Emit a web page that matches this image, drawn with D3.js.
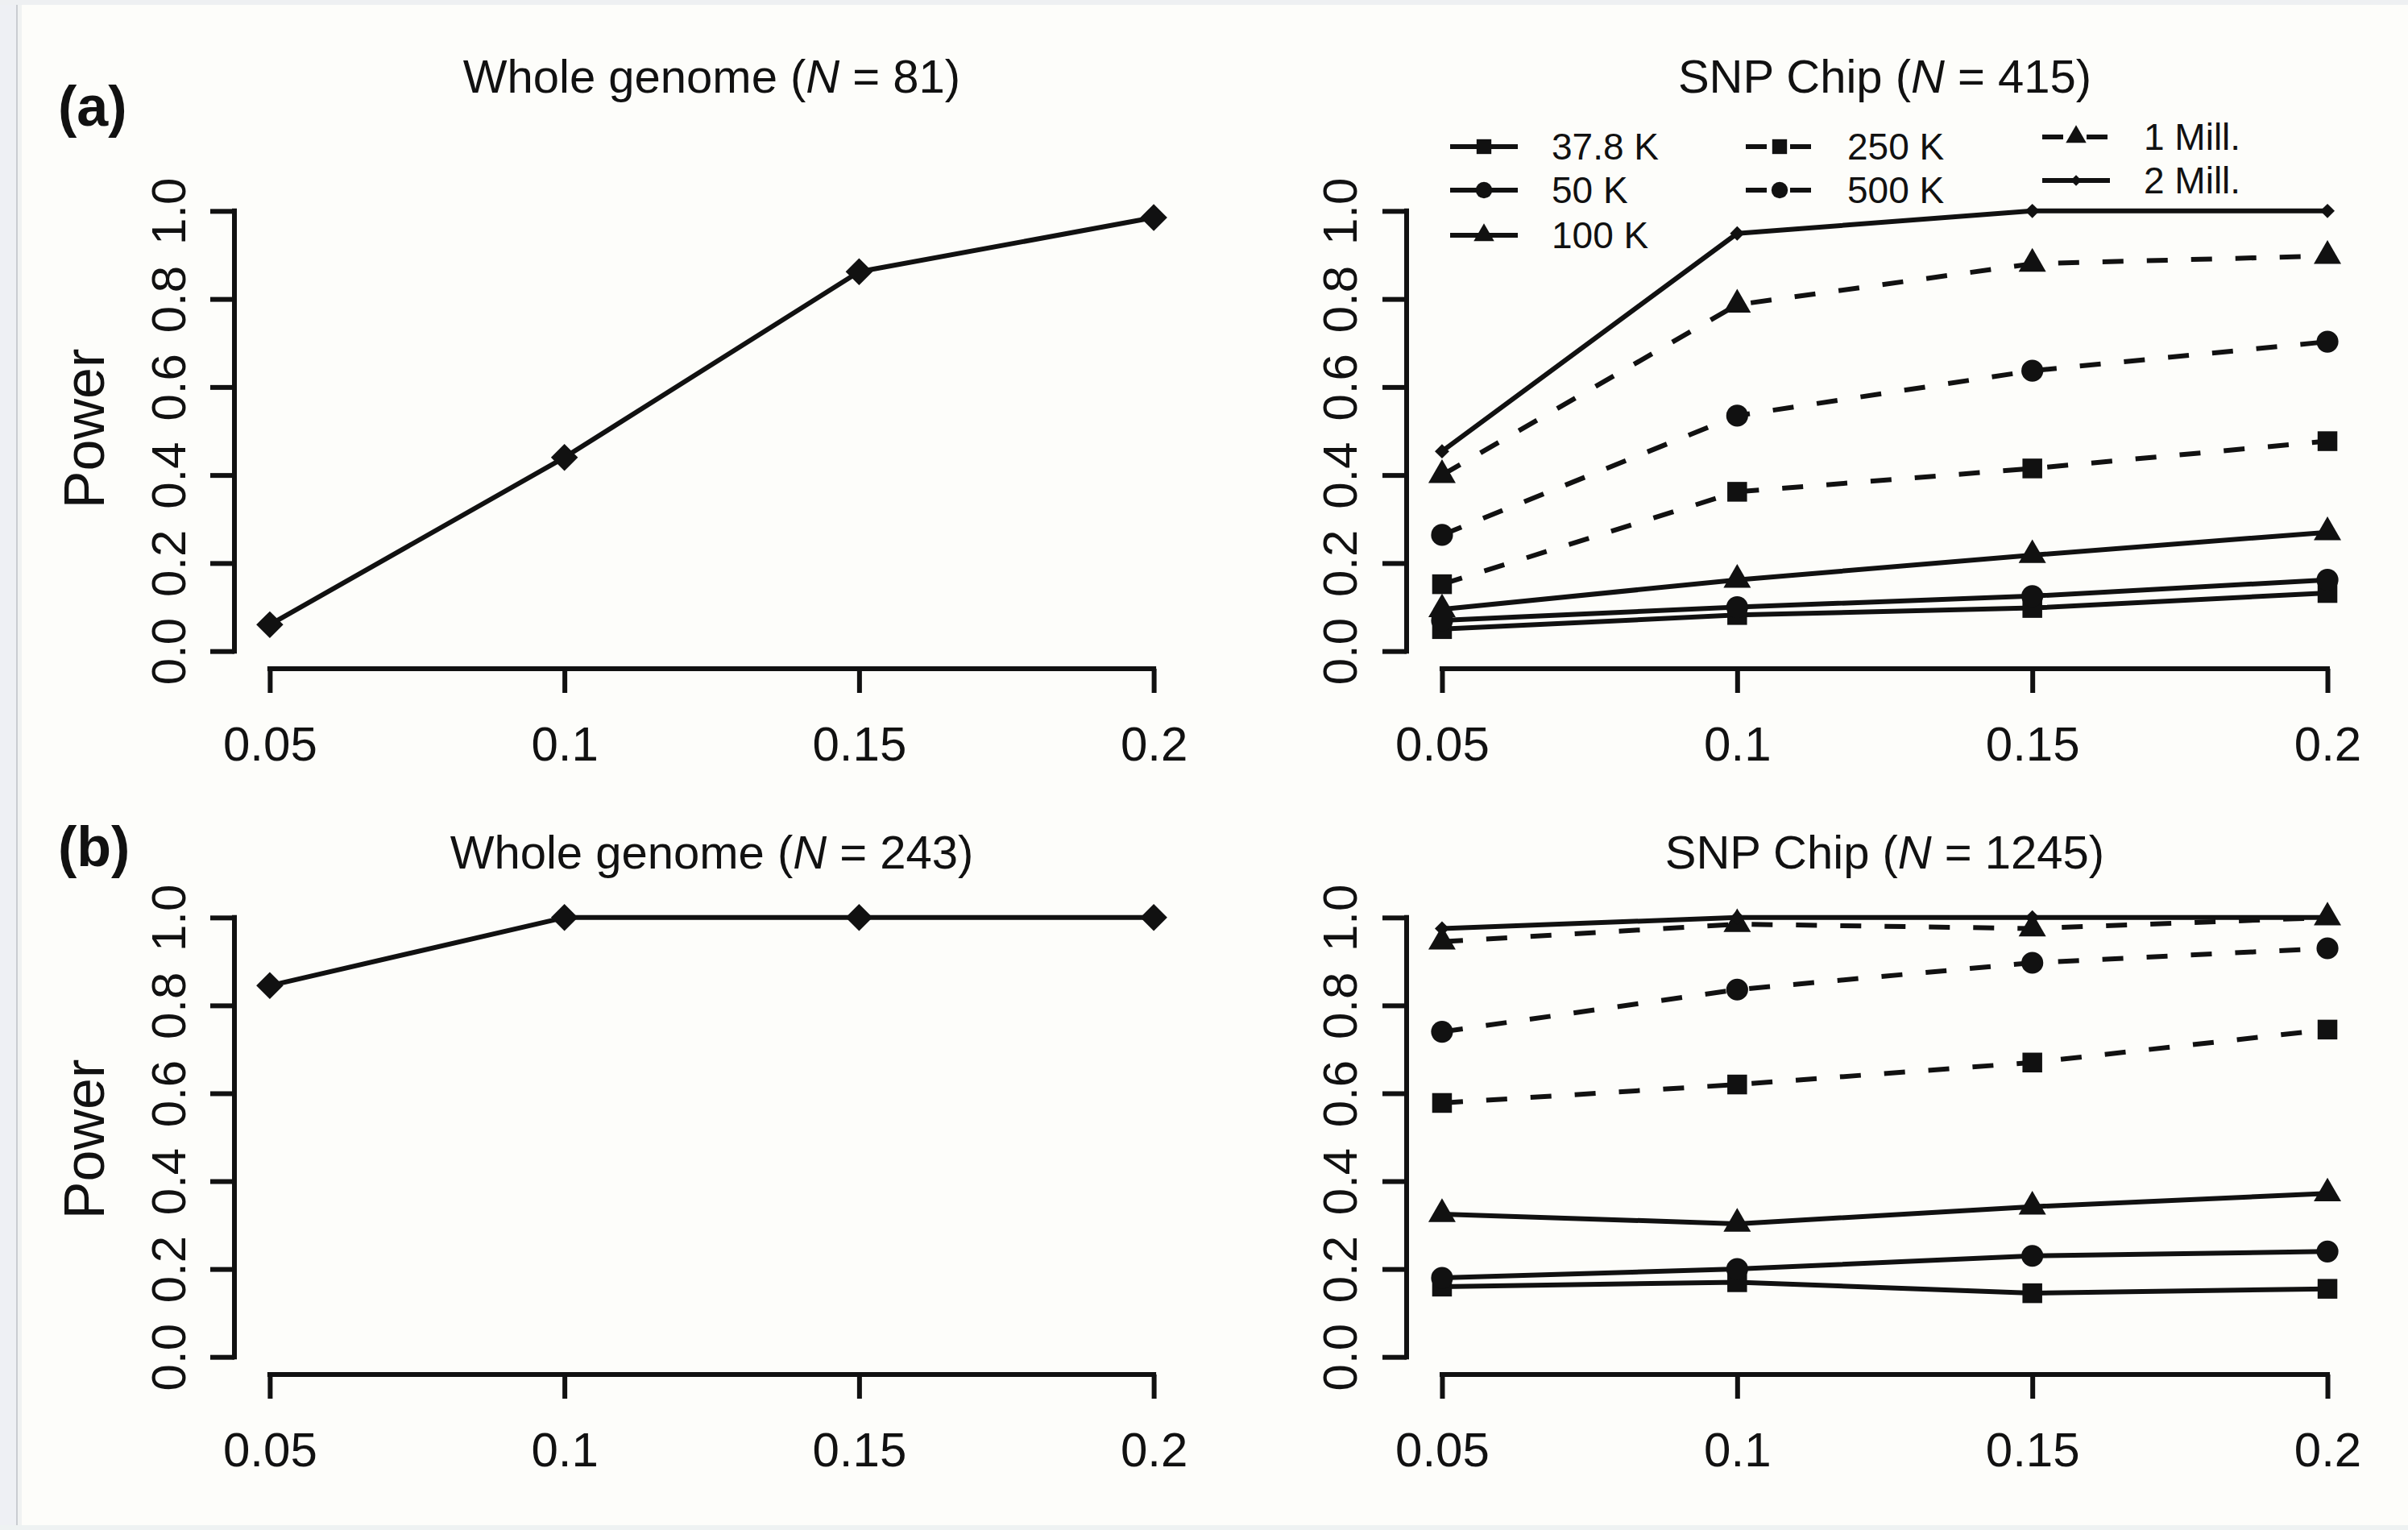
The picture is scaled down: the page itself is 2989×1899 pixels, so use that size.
<!DOCTYPE html>
<html>
<head>
<meta charset="utf-8">
<script src="https://cdn.jsdelivr.net/npm/d3@7"></script>
<style>
	body { margin: 0; background: #fdfdfa; }
	svg { display: block; }
</style>
</head>
<body>
<svg id="chart"></svg>
<script>

//****************************************************************************************************************************//
// Data

var mafTicks = [0.05, 0.1, 0.15, 0.2];
var mafLabels = ["0.05", "0.1", "0.15", "0.2"];
var powerTicks = [0, 0.2, 0.4, 0.6, 0.8, 1.0];

var wholeGenomeA = [0.06, 0.44, 0.862, 0.985];
var wholeGenomeB = [0.845, 1, 1, 1];

var chipNames = ["37.8 K", "50 K", "100 K", "250 K", "500 K", "1 Mill.", "2 Mill."];

var chipA = [
	[0.05, 0.082, 0.098, 0.132],
	[0.07, 0.10, 0.125, 0.162],
	[0.095, 0.162, 0.218, 0.27],
	[0.152, 0.362, 0.415, 0.477],
	[0.264, 0.535, 0.637, 0.703],
	[0.40, 0.787, 0.88, 0.898],
	[0.454, 0.949, 1.0, 1.0]
];

var chipB = [
	[0.16, 0.17, 0.145, 0.155],
	[0.18, 0.20, 0.23, 0.24],
	[0.325, 0.303, 0.342, 0.372],
	[0.578, 0.62, 0.67, 0.745],
	[0.74, 0.836, 0.897, 0.93],
	[0.945, 0.985, 0.975, 1.0],
	[0.975, 1.0, 1.0, 1.0]
];

var sampleSizes = { wholeA : 81, chipA : 415, wholeB : 243, chipB : 1245 };

//****************************************************************************************************************************//
// Styles

var width = 2989, height = 1899;
var fontFamily = "'Liberation Sans', Arial, Helvetica, sans-serif";
var ink = "#111111";
var lineWidth = 6;

var markerShape = ["square", "circle", "triangle", "square", "circle", "triangle", "smallDiamond"];
var markerDashed = [false, false, false, true, true, true, false];
var dashPattern = "26,29";

var cols = [ { left : 291, right : 1476 }, { left : 1746, right : 2933 } ];
var rows = [ { top : 240, bottom : 830, titleY : 115 }, { top : 1117, bottom : 1706, titleY : 1078 } ];

var canvas = d3.select("#chart")
				.attr("width", width)
				.attr("height", height)
				.style("font-family", fontFamily);

// page frame
canvas.append("rect").attr("x", 0).attr("y", 0).attr("width", width).attr("height", height).attr("fill", "#fdfdfa");
canvas.append("rect").attr("x", 0).attr("y", 0).attr("width", 20).attr("height", height).attr("fill", "#eef0f4");
canvas.append("rect").attr("x", 20).attr("y", 0).attr("width", 2).attr("height", height).attr("fill", "#c9cdd1");
canvas.append("rect").attr("x", 22).attr("y", 0).attr("width", 5).attr("height", height).attr("fill", "#f0f2f2");
canvas.append("rect").attr("x", 0).attr("y", 1893).attr("width", width).attr("height", height - 1893).attr("fill", "#eef2f2");
canvas.append("rect").attr("x", 0).attr("y", 0).attr("width", width).attr("height", 6).attr("fill", "#eef0f2");

//****************************************************************************************************************************//
// Marker helper

function markerPath(shape, scale){
	scale = scale || 1;
	if (shape == "square") return d3.symbol().type(d3.symbolSquare).size(600*scale*scale)();
	if (shape == "circle") return d3.symbol().type(d3.symbolCircle).size(580*scale*scale)();
	if (shape == "triangle") return d3.symbol().type(d3.symbolTriangle).size(500*scale*scale)();
	if (shape == "diamond") return d3.symbol().type(d3.symbolSquare).size(560*scale*scale)();
	if (shape == "smallDiamond") return d3.symbol().type(d3.symbolSquare).size(160*scale*scale)();
}

function markerRotation(shape){
	return (shape == "diamond" || shape == "smallDiamond") ? 45 : 0;
}

//****************************************************************************************************************************//
// Panel

function createPanel(col, row, titleText, nValue, series, shapes, dashed, yLabelOffset){

	var x = d3.scaleLinear().domain([0.044, 0.206]).range([col.left, col.right]);
	var y = d3.scaleLinear().domain([-0.04, 1.04]).range([row.bottom, row.top]);

	var panel = canvas.append("g");

	// y axis
	var gy = panel.append("g")
				.attr("transform", "translate(" + col.left + ",0)")
				.call(d3.axisLeft(y).tickValues(powerTicks).tickSize(30).tickFormat(d3.format(".1f")))
				.attr("font-size", 60)
				.attr("font-family", fontFamily);
	gy.select(".domain").remove();
	gy.selectAll(".tick line").attr("stroke", ink).attr("stroke-width", lineWidth);
	gy.selectAll(".tick text")
				.attr("x", 0)
				.attr("dy", null)
				.attr("text-anchor", "middle")
				.attr("fill", ink)
				.attr("transform", "translate(" + yLabelOffset + ",0) rotate(-90)");
	panel.append("line")
				.attr("x1", col.left).attr("x2", col.left)
				.attr("y1", y(0) + lineWidth / 2).attr("y2", y(1) - lineWidth / 2)
				.attr("stroke", ink).attr("stroke-width", lineWidth);

	// x axis
	var gx = panel.append("g")
				.attr("transform", "translate(0," + row.bottom + ")")
				.call(d3.axisBottom(x).tickValues(mafTicks).tickSize(30).tickFormat(function(d, i){ return mafLabels[i]; }))
				.attr("font-size", 60)
				.attr("font-family", fontFamily);
	gx.select(".domain").remove();
	gx.selectAll(".tick line").attr("stroke", ink).attr("stroke-width", lineWidth);
	gx.selectAll(".tick text").attr("y", 114).attr("dy", null).attr("fill", ink);
	panel.append("line")
				.attr("x1", x(mafTicks[0]) - lineWidth / 2).attr("x2", x(mafTicks[mafTicks.length - 1]) + lineWidth / 2)
				.attr("y1", row.bottom).attr("y2", row.bottom)
				.attr("stroke", ink).attr("stroke-width", lineWidth);

	// title
	var title = panel.append("text")
				.attr("x", (col.left + col.right) / 2)
				.attr("y", row.titleY)
				.attr("text-anchor", "middle")
				.attr("font-size", 58)
				.attr("fill", ink);
	title.append("tspan").text(titleText + " (");
	title.append("tspan").attr("font-style", "italic").text("N");
	title.append("tspan").text(" = " + nValue + ")");

	// series
	var line = d3.line()
				.x(function(d, i){ return x(mafTicks[i]); })
				.y(function(d){ return y(d); });

	series.forEach(function(values, s){
		panel.append("path")
				.attr("d", line(values))
				.attr("fill", "none")
				.attr("stroke", ink)
				.attr("stroke-width", lineWidth)
				.attr("stroke-linejoin", "round")
				.attr("stroke-dasharray", dashed[s] ? dashPattern : null);
	});

	series.forEach(function(values, s){
		panel.selectAll(null)
				.data(values)
				.enter()
				.append("path")
				.attr("d", markerPath(shapes[s]))
				.attr("transform", function(d, i){
					return "translate(" + x(mafTicks[i]) + "," + y(d) + ") rotate(" + markerRotation(shapes[s]) + ")";
				})
				.attr("fill", ink);
	});

	return panel;
}

//****************************************************************************************************************************//
// Panels

createPanel(cols[0], rows[0], "Whole genome", sampleSizes.wholeA, [wholeGenomeA], ["diamond"], [false], -61);
createPanel(cols[1], rows[0], "SNP Chip", sampleSizes.chipA, chipA, markerShape, markerDashed, -62);
createPanel(cols[0], rows[1], "Whole genome", sampleSizes.wholeB, [wholeGenomeB], ["diamond"], [false], -61);
createPanel(cols[1], rows[1], "SNP Chip", sampleSizes.chipB, chipB, markerShape, markerDashed, -62);

//****************************************************************************************************************************//
// Panel letters and axis titles

canvas.append("text").attr("x", 72).attr("y", 156).attr("font-size", 70).attr("font-weight", "bold").attr("fill", ink).text("(a)");
canvas.append("text").attr("x", 72).attr("y", 1075).attr("font-size", 70).attr("font-weight", "bold").attr("fill", ink).text("(b)");

[532, 1414].forEach(function(cy){
	canvas.append("text")
			.attr("transform", "translate(129," + cy + ") rotate(-90)")
			.attr("text-anchor", "middle")
			.attr("font-size", 70)
			.attr("fill", ink)
			.text("Power");
});

//****************************************************************************************************************************//
// Legend

var legendSlots = [
	{ x : 1800, y : 182 }, { x : 1800, y : 236 }, { x : 1800, y : 292 },
	{ x : 2167, y : 182 }, { x : 2167, y : 236 },
	{ x : 2535, y : 170 }, { x : 2535, y : 224 }
];
var legendLineLength = 84;

var legend = canvas.append("g");
chipNames.forEach(function(name, s){
	var slot = legendSlots[s];
	legend.append("line")
			.attr("x1", slot.x).attr("x2", slot.x + legendLineLength)
			.attr("y1", slot.y).attr("y2", slot.y)
			.attr("stroke", ink).attr("stroke-width", lineWidth)
			.attr("stroke-dasharray", markerDashed[s] ? dashPattern : null);
	legend.append("path")
			.attr("d", markerPath(markerShape[s], 0.75))
			.attr("transform", "translate(" + (slot.x + legendLineLength / 2) + "," + slot.y + ") rotate(" + markerRotation(markerShape[s]) + ")")
			.attr("fill", ink);
	legend.append("text")
			.attr("x", slot.x + 126)
			.attr("y", slot.y + 16)
			.attr("font-size", 46)
			.attr("fill", ink)
			.text(name);
});

</script>
</body>
</html>
